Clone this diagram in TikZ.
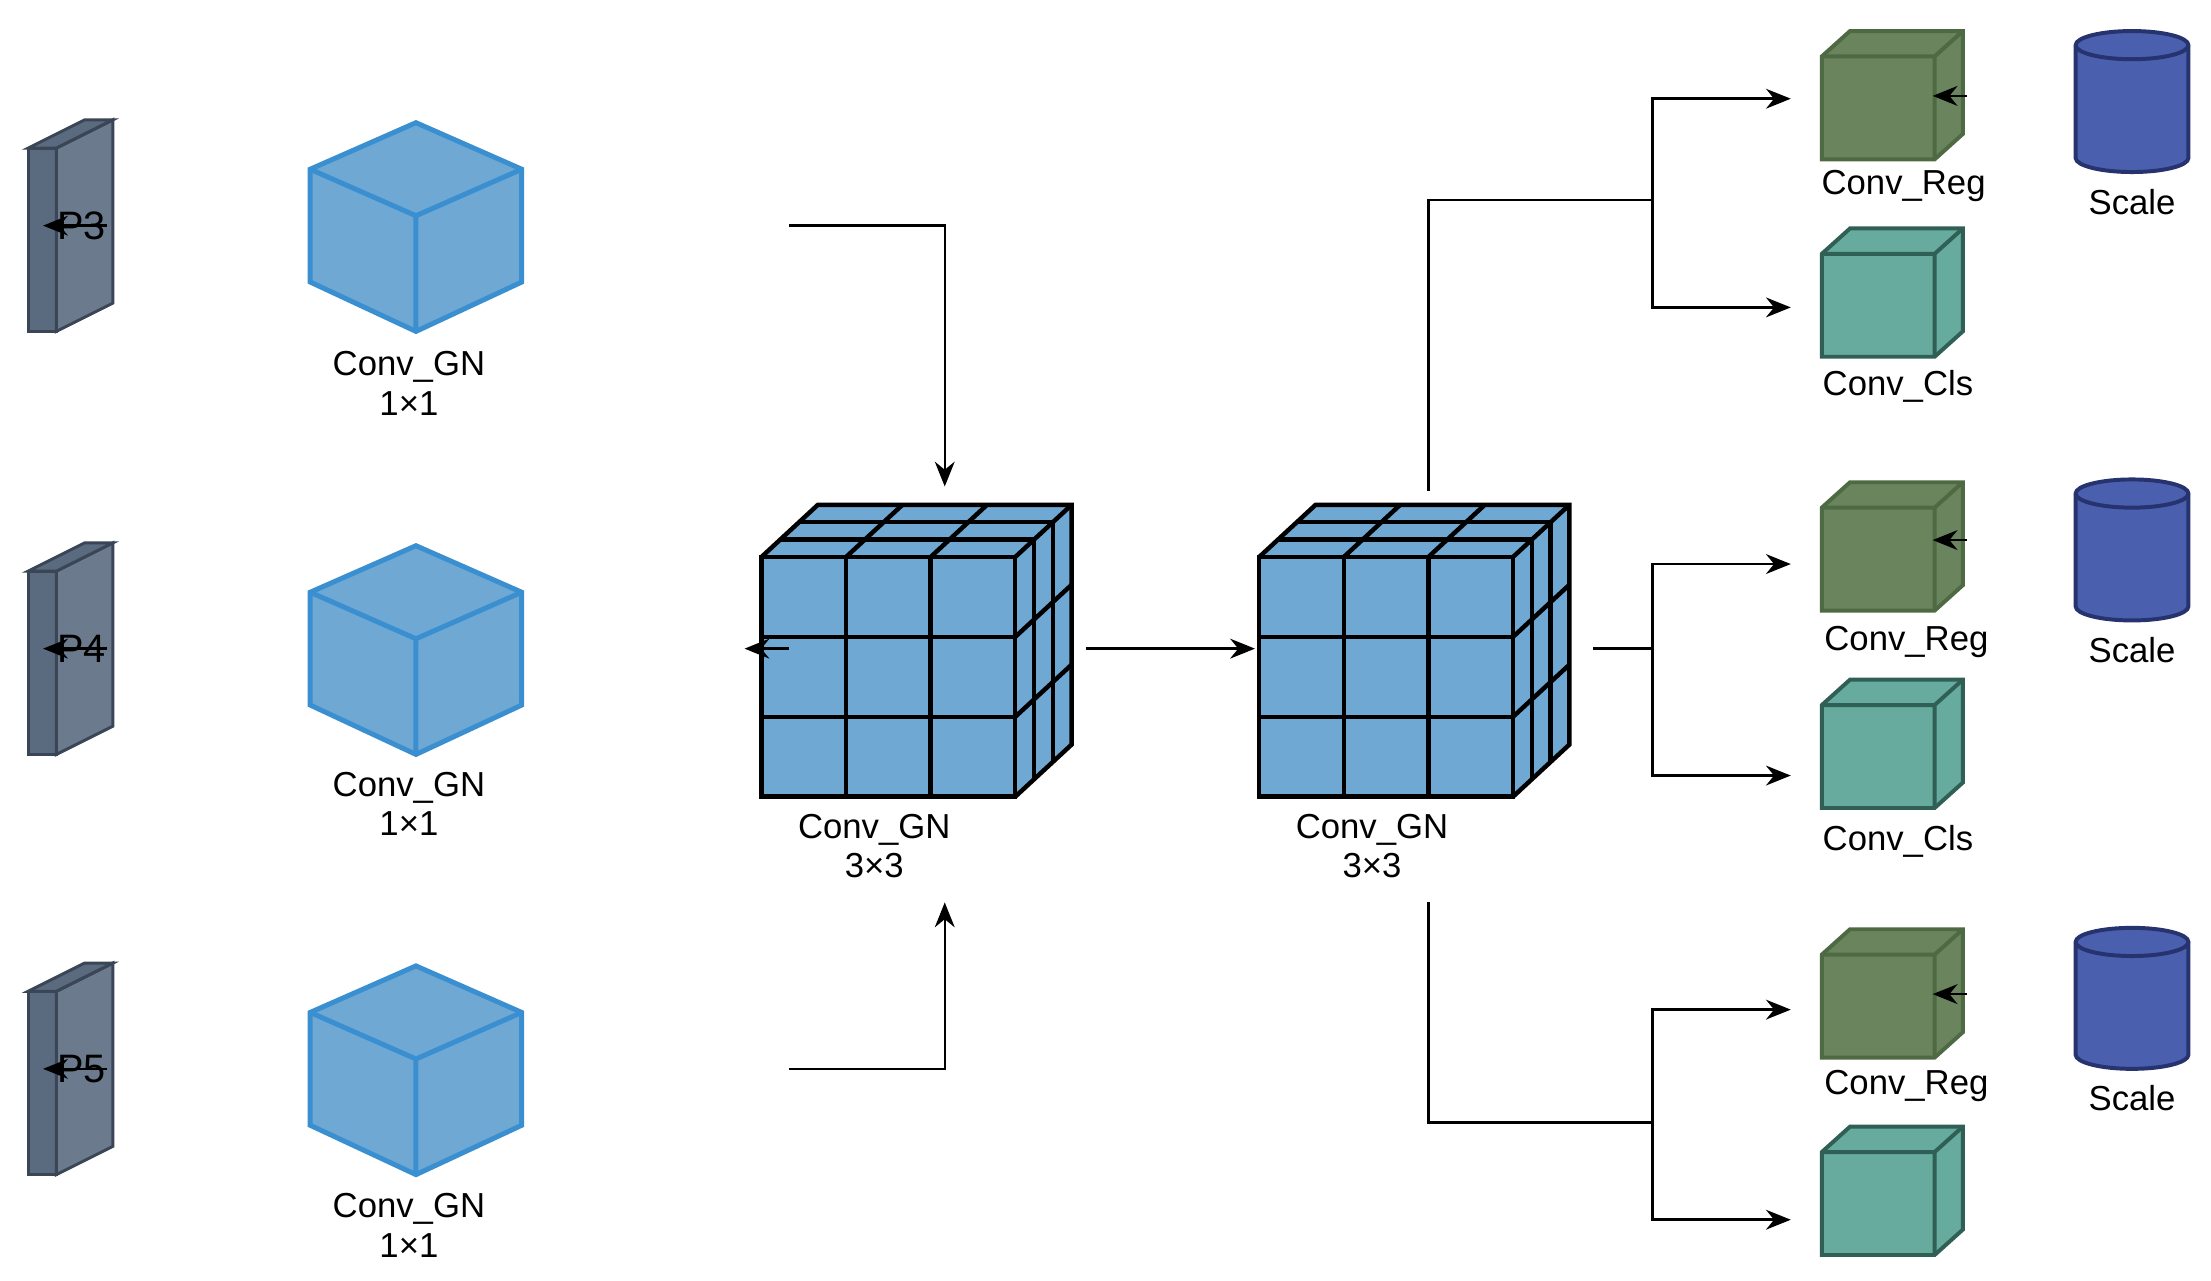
\documentclass[tikz,border=0pt]{standalone}
\usepackage{fontspec}
\setmainfont{Liberation Sans}
\usetikzlibrary{arrows.meta}
\definecolor{cubefill}{HTML}{6FA8D3}
\definecolor{cubeline}{HTML}{3A8FD0}
\definecolor{platefill}{HTML}{5A6B80}
\definecolor{plateline}{HTML}{3A4656}
\definecolor{regfill}{HTML}{6A845E}
\definecolor{regline}{HTML}{4D6A43}
\definecolor{clsfill}{HTML}{67AB9F}
\definecolor{clsline}{HTML}{2F5F55}
\definecolor{cylfill}{HTML}{4A5FAE}
\definecolor{cylline}{HTML}{27336E}
\tikzset{
  lbl/.style={font=\fontsize{7}{8}\selectfont, align=center, inner sep=0},
  conn/.style={line width=0.5pt, draw=black},
  arr/.style={conn, -{Stealth[length=5pt,width=4pt]}},
  anchorbox/.style={draw=none, fill=none, inner sep=0, minimum width=#1},
}
% plate: name, x, y(center)
\newcommand{\myplate}[4]{%
  \fill[platefill, draw=plateline, line width=0.6pt] (#2,#3-55) -- (#2+20,#3-55) -- (#2+20,#3+75) -- (#2,#3+75) -- cycle;
  \fill[platefill!90!white, draw=plateline, line width=0.6pt] (#2+20,#3-55) -- (#2+60,#3-75) -- (#2+60,#3+55) -- (#2+20,#3+75) -- cycle;
  \fill[platefill, draw=plateline, line width=0.6pt] (#2,#3-55) -- (#2+40,#3-75) -- (#2+60,#3-75) -- (#2+20,#3-55) -- cycle;
  \node[lbl, font=\fontsize{8}{9}\selectfont] (#1) at (#2+38,#3) {#4};
}
% hex cube: name, cx, cy
\newcommand{\hexcube}[3]{%
  \filldraw[fill=cubefill, draw=cubeline, line width=1pt]
    (#2,#3-73) -- (#2+75,#3-40) -- (#2+75,#3+40) -- (#2,#3+75) -- (#2-75,#3+40) -- (#2-75,#3-40) -- cycle;
  \draw[cubeline, line width=1pt] (#2-75,#3-40) -- (#2,#3-7) -- (#2+75,#3-40) (#2,#3-7) -- (#2,#3+75);
  \node[anchorbox=150pt, minimum height=148pt, inner sep=0] (#1) at (#2,#3) {};
}
% grid cube: name, x0, y0 (front top-left)
\newcommand{\gridcube}[3]{%
  \begin{scope}[shift={(#2,#3)}]
    \fill[cubefill] (0,0) -- (40,-37) -- (220,-37) -- (220,133) -- (180,170) -- (0,170) -- cycle;
    \draw[line width=0.9pt] (0,0) rectangle (180,170);
    \foreach \i in {1,2} {
      \draw[line width=0.9pt] (60*\i,0) -- (60*\i,170);
      \draw[line width=0.9pt] (0,170/3*\i) -- (180,170/3*\i);
    }
    \draw[line width=0.9pt] (0,0) -- (40,-37) -- (220,-37) -- (220,133) -- (180,170);
    \draw[line width=0.9pt] (180,0) -- (220,-37);
    \foreach \k in {1,2} {
      \draw[line width=0.9pt] (40/3*\k,-37/3*\k) -- (180+40/3*\k,-37/3*\k) -- (180+40/3*\k,170-37/3*\k);
    }
    \foreach \i in {1,2} {
      \draw[line width=0.9pt] (60*\i,0) -- (60*\i+40,-37);
      \draw[line width=0.9pt] (180,170/3*\i) -- (220,170/3*\i-37);
    }
  \end{scope}
  \node[anchorbox=220pt, minimum height=207pt] (#1) at (#2+110,#3+66) {};
}
% small cube: name, x0, y0, fill, line
\newcommand{\smallcube}[5]{%
  \filldraw[fill=#4, draw=#5, line width=0.8pt] (#2,#3) -- (#2+20,#3-18) -- (#2+100,#3-18) -- (#2+100,#3+55) -- (#2+80,#3+73) -- (#2,#3+73) -- cycle;
  \draw[#5, line width=0.8pt] (#2,#3) -- (#2+80,#3) -- (#2+80,#3+73) (#2+80,#3) -- (#2+100,#3-18);
  \node[anchorbox=100pt, minimum height=91pt] (#1) at (#2+50,#3+27.5) {};
}
% cylinder: name, x0, ytop, ybot
\newcommand{\mycyl}[4]{%
  \filldraw[fill=cylfill, draw=cylline, line width=0.8pt] (#2,#3) -- (#2,#4) arc[start angle=180, end angle=360, x radius=40, y radius=-10] -- (#2+80,#3) arc[start angle=0, end angle=180, x radius=40, y radius=-10] -- cycle;
  \draw[cylline, line width=0.8pt] (#2,#3) arc[start angle=180, end angle=360, x radius=40, y radius=-10];
  \node[anchorbox=80pt, minimum height=(#4-#3)*1pt] (#1) at (#2+40,{(#3+#4)/2}) {};
}
\begin{document}
\begin{tikzpicture}[x=0.01cm, y=-0.01cm]
\useasboundingbox (0,0) rectangle (1568,908);
% left plates
\myplate{p3}{20}{160}{P3}
\myplate{p4}{20}{460}{P4}
\myplate{p5}{20}{758}{P5}
% 1x1 cubes
\hexcube{c3}{295}{160}
\hexcube{c4}{295}{460}
\hexcube{c5}{295}{758}
\node[lbl] (l3) at (290,272) {Conv\_GN\\1×1};
\node[lbl] (l4) at (290,570) {Conv\_GN\\1×1};
\node[lbl] (l5) at (290,869) {Conv\_GN\\1×1};
% grid cubes
\gridcube{g1}{540}{395}
\gridcube{g2}{893}{395}
\node[lbl] (lg1) at (620,600) {Conv\_GN\\3×3};
\node[lbl] (lg2) at (973,600) {Conv\_GN\\3×3};
% right heads
\smallcube{r1}{1292}{40}{regfill}{regline}
\smallcube{k1}{1292}{180}{clsfill}{clsline}
\smallcube{r2}{1292}{360}{regfill}{regline}
\smallcube{k2}{1292}{500}{clsfill}{clsline}
\smallcube{r3}{1292}{677}{regfill}{regline}
\smallcube{k3}{1292}{817}{clsfill}{clsline}
\node[lbl] (lr1) at (1350,132) {Conv\_Reg};
\node[lbl] (lk1) at (1346,274) {Conv\_Cls};
\node[lbl] (lr2) at (1352,455) {Conv\_Reg};
\node[lbl] (lk2) at (1346,597) {Conv\_Cls};
\node[lbl] (lr3) at (1352,770) {Conv\_Reg};
\mycyl{s1}{1472}{32}{112}
\mycyl{s2}{1472}{350}{430}
\mycyl{s3}{1472}{668}{748}
\node[lbl] (ls1) at (1512,143) {Scale};
\node[lbl] (ls2) at (1512,461) {Scale};
\node[lbl] (ls3) at (1512,779) {Scale};
% connectors
\draw[arr] (p3.east) -- (c3.west);
\draw[arr] (p4.east) -- (c4.west);
\draw[arr] (p5.east) -- (c5.west);
\coordinate (g1top) at (670,345);
\coordinate (g1bot) at (670,640);
\draw[arr] (c3.east) -| (g1top);
\draw[arr] (c5.east) -| (g1bot);
\draw[arr] (c4.east) -- (528,460);
\draw[arr] (770,460) -- (890,460);
% branches
\coordinate (b1) at (1013,348);
\coordinate (j1) at (1172,142);
\draw[conn] (b1) |- (j1);
\draw[arr] (j1) |- (1270,70);
\draw[arr] (j1) |- (1270,218);
\coordinate (b2) at (1130,460);
\coordinate (j2) at (1172,460);
\draw[conn] (b2) -- (j2);
\draw[arr] (j2) |- (1270,400);
\draw[arr] (j2) |- (1270,550);
\coordinate (b3) at (1013,640);
\coordinate (j3) at (1172,796);
\draw[conn] (b3) |- (j3);
\draw[arr] (j3) |- (1270,716);
\draw[arr] (j3) |- (1270,865);
\draw[arr] (1395,68) -- (s1.west |- 0,68);
\draw[arr] (1395,383) -- (s2.west |- 0,383);
\draw[arr] (1395,705) -- (s3.west |- 0,705);
\end{tikzpicture}
\end{document}
